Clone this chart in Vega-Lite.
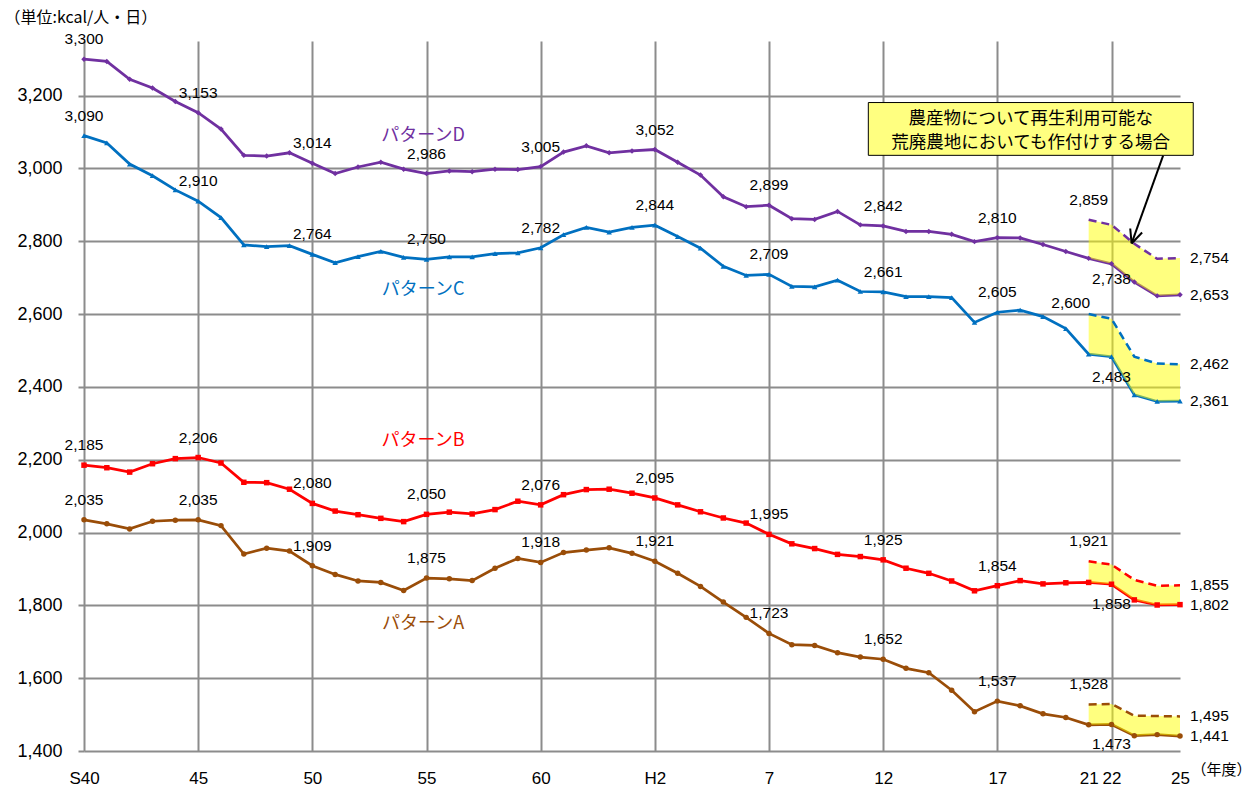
{
  "$schema": "https://vega.github.io/schema/vega-lite/v6.json",
  "width": 1096,
  "height": 710,
  "autosize": {"type": "none"},
  "padding": {"left": 84, "top": 41, "right": 73, "bottom": 38},
  "background": "white",
  "config": {"view": {"stroke": null}, "font": "Liberation Sans"},
  "datasets": {
    "series": [
      {"p":"D","year":1965,"v":3300},{"p":"D","year":1966,"v":3294},{"p":"D","year":1967,"v":3245},{"p":"D","year":1968,"v":3221},{"p":"D","year":1969,"v":3184},
      {"p":"D","year":1970,"v":3153},{"p":"D","year":1971,"v":3108},{"p":"D","year":1972,"v":3036},{"p":"D","year":1973,"v":3034},{"p":"D","year":1974,"v":3043},
      {"p":"D","year":1975,"v":3014},{"p":"D","year":1976,"v":2986},{"p":"D","year":1977,"v":3004},{"p":"D","year":1978,"v":3017},{"p":"D","year":1979,"v":2998},
      {"p":"D","year":1980,"v":2986},{"p":"D","year":1981,"v":2993},{"p":"D","year":1982,"v":2991},{"p":"D","year":1983,"v":2998},{"p":"D","year":1984,"v":2997},
      {"p":"D","year":1985,"v":3005},{"p":"D","year":1986,"v":3045},{"p":"D","year":1987,"v":3062},{"p":"D","year":1988,"v":3043},{"p":"D","year":1989,"v":3048},
      {"p":"D","year":1990,"v":3052},{"p":"D","year":1991,"v":3017},{"p":"D","year":1992,"v":2982},{"p":"D","year":1993,"v":2922},{"p":"D","year":1994,"v":2895},
      {"p":"D","year":1995,"v":2899},{"p":"D","year":1996,"v":2862},{"p":"D","year":1997,"v":2860},{"p":"D","year":1998,"v":2882},{"p":"D","year":1999,"v":2845},
      {"p":"D","year":2000,"v":2842},{"p":"D","year":2001,"v":2827},{"p":"D","year":2002,"v":2827},{"p":"D","year":2003,"v":2819},{"p":"D","year":2004,"v":2799},
      {"p":"D","year":2005,"v":2810},{"p":"D","year":2006,"v":2809},{"p":"D","year":2007,"v":2791},{"p":"D","year":2008,"v":2772},
      {"p":"D","year":2009,"v":2753,"u":2859},{"p":"D","year":2010,"v":2738,"u":2845},{"p":"D","year":2011,"v":2688,"u":2793},{"p":"D","year":2012,"v":2650,"u":2752},{"p":"D","year":2013,"v":2653,"u":2754},

      {"p":"C","year":1965,"v":3090},{"p":"C","year":1966,"v":3070},{"p":"C","year":1967,"v":3012},{"p":"C","year":1968,"v":2980},{"p":"C","year":1969,"v":2941},
      {"p":"C","year":1970,"v":2910},{"p":"C","year":1971,"v":2865},{"p":"C","year":1972,"v":2790},{"p":"C","year":1973,"v":2785},{"p":"C","year":1974,"v":2788},
      {"p":"C","year":1975,"v":2764},{"p":"C","year":1976,"v":2741},{"p":"C","year":1977,"v":2758},{"p":"C","year":1978,"v":2772},{"p":"C","year":1979,"v":2756},
      {"p":"C","year":1980,"v":2750},{"p":"C","year":1981,"v":2757},{"p":"C","year":1982,"v":2757},{"p":"C","year":1983,"v":2766},{"p":"C","year":1984,"v":2768},
      {"p":"C","year":1985,"v":2782},{"p":"C","year":1986,"v":2818},{"p":"C","year":1987,"v":2838},{"p":"C","year":1988,"v":2825},{"p":"C","year":1989,"v":2838},
      {"p":"C","year":1990,"v":2844},{"p":"C","year":1991,"v":2813},{"p":"C","year":1992,"v":2781},{"p":"C","year":1993,"v":2731},{"p":"C","year":1994,"v":2706},
      {"p":"C","year":1995,"v":2709},{"p":"C","year":1996,"v":2676},{"p":"C","year":1997,"v":2675},{"p":"C","year":1998,"v":2693},{"p":"C","year":1999,"v":2662},
      {"p":"C","year":2000,"v":2661},{"p":"C","year":2001,"v":2648},{"p":"C","year":2002,"v":2648},{"p":"C","year":2003,"v":2645},{"p":"C","year":2004,"v":2577},
      {"p":"C","year":2005,"v":2605},{"p":"C","year":2006,"v":2611},{"p":"C","year":2007,"v":2593},{"p":"C","year":2008,"v":2560},
      {"p":"C","year":2009,"v":2490,"u":2600},{"p":"C","year":2010,"v":2483,"u":2587},{"p":"C","year":2011,"v":2378,"u":2483},{"p":"C","year":2012,"v":2360,"u":2464},{"p":"C","year":2013,"v":2361,"u":2462},

      {"p":"B","year":1965,"v":2185},{"p":"B","year":1966,"v":2178},{"p":"B","year":1967,"v":2166},{"p":"B","year":1968,"v":2189},{"p":"B","year":1969,"v":2203},
      {"p":"B","year":1970,"v":2206},{"p":"B","year":1971,"v":2191},{"p":"B","year":1972,"v":2138},{"p":"B","year":1973,"v":2137},{"p":"B","year":1974,"v":2119},
      {"p":"B","year":1975,"v":2080},{"p":"B","year":1976,"v":2059},{"p":"B","year":1977,"v":2049},{"p":"B","year":1978,"v":2039},{"p":"B","year":1979,"v":2030},
      {"p":"B","year":1980,"v":2050},{"p":"B","year":1981,"v":2056},{"p":"B","year":1982,"v":2051},{"p":"B","year":1983,"v":2063},{"p":"B","year":1984,"v":2086},
      {"p":"B","year":1985,"v":2076},{"p":"B","year":1986,"v":2104},{"p":"B","year":1987,"v":2118},{"p":"B","year":1988,"v":2119},{"p":"B","year":1989,"v":2108},
      {"p":"B","year":1990,"v":2095},{"p":"B","year":1991,"v":2076},{"p":"B","year":1992,"v":2057},{"p":"B","year":1993,"v":2040},{"p":"B","year":1994,"v":2026},
      {"p":"B","year":1995,"v":1995},{"p":"B","year":1996,"v":1969},{"p":"B","year":1997,"v":1956},{"p":"B","year":1998,"v":1940},{"p":"B","year":1999,"v":1934},
      {"p":"B","year":2000,"v":1925},{"p":"B","year":2001,"v":1902},{"p":"B","year":2002,"v":1888},{"p":"B","year":2003,"v":1867},{"p":"B","year":2004,"v":1840},
      {"p":"B","year":2005,"v":1854},{"p":"B","year":2006,"v":1868},{"p":"B","year":2007,"v":1859},{"p":"B","year":2008,"v":1862},
      {"p":"B","year":2009,"v":1863,"u":1921},{"p":"B","year":2010,"v":1858,"u":1912},{"p":"B","year":2011,"v":1815,"u":1870},{"p":"B","year":2012,"v":1801,"u":1854},{"p":"B","year":2013,"v":1802,"u":1855},

      {"p":"A","year":1965,"v":2035},{"p":"A","year":1966,"v":2024},{"p":"A","year":1967,"v":2010},{"p":"A","year":1968,"v":2031},{"p":"A","year":1969,"v":2034},
      {"p":"A","year":1970,"v":2035},{"p":"A","year":1971,"v":2019},{"p":"A","year":1972,"v":1941},{"p":"A","year":1973,"v":1957},{"p":"A","year":1974,"v":1949},
      {"p":"A","year":1975,"v":1909},{"p":"A","year":1976,"v":1885},{"p":"A","year":1977,"v":1867},{"p":"A","year":1978,"v":1863},{"p":"A","year":1979,"v":1841},
      {"p":"A","year":1980,"v":1875},{"p":"A","year":1981,"v":1873},{"p":"A","year":1982,"v":1868},{"p":"A","year":1983,"v":1902},{"p":"A","year":1984,"v":1929},
      {"p":"A","year":1985,"v":1918},{"p":"A","year":1986,"v":1945},{"p":"A","year":1987,"v":1952},{"p":"A","year":1988,"v":1958},{"p":"A","year":1989,"v":1943},
      {"p":"A","year":1990,"v":1921},{"p":"A","year":1991,"v":1888},{"p":"A","year":1992,"v":1852},{"p":"A","year":1993,"v":1809},{"p":"A","year":1994,"v":1767},
      {"p":"A","year":1995,"v":1723},{"p":"A","year":1996,"v":1692},{"p":"A","year":1997,"v":1690},{"p":"A","year":1998,"v":1670},{"p":"A","year":1999,"v":1658},
      {"p":"A","year":2000,"v":1652},{"p":"A","year":2001,"v":1627},{"p":"A","year":2002,"v":1615},{"p":"A","year":2003,"v":1567},{"p":"A","year":2004,"v":1508},
      {"p":"A","year":2005,"v":1537},{"p":"A","year":2006,"v":1524},{"p":"A","year":2007,"v":1502},{"p":"A","year":2008,"v":1492},
      {"p":"A","year":2009,"v":1472,"u":1528},{"p":"A","year":2010,"v":1473,"u":1529},{"p":"A","year":2011,"v":1442,"u":1497},{"p":"A","year":2012,"v":1445,"u":1496},{"p":"A","year":2013,"v":1441,"u":1495}
    ],
    "labels": [
      {"year":1965,"v":3300,"pos":"above"},{"year":1970,"v":3153,"pos":"above"},{"year":1975,"v":3014,"pos":"above"},{"year":1980,"v":2986,"pos":"above"},{"year":1985,"v":3005,"pos":"above"},
      {"year":1990,"v":3052,"pos":"above"},{"year":1995,"v":2899,"pos":"above"},{"year":2000,"v":2842,"pos":"above"},{"year":2005,"v":2810,"pos":"above"},{"year":2009,"v":2859,"pos":"above"},
      {"year":2010,"v":2738,"pos":"below2"},{"year":2013,"v":2754,"pos":"right"},{"year":2013,"v":2653,"pos":"right"},
      {"year":1965,"v":3090,"pos":"above"},{"year":1970,"v":2910,"pos":"above"},{"year":1975,"v":2764,"pos":"above"},{"year":1980,"v":2750,"pos":"above"},{"year":1985,"v":2782,"pos":"above"},
      {"year":1990,"v":2844,"pos":"above"},{"year":1995,"v":2709,"pos":"above"},{"year":2000,"v":2661,"pos":"above"},{"year":2005,"v":2605,"pos":"above"},{"year":2009,"v":2600,"pos":"upleft"},
      {"year":2010,"v":2483,"pos":"below"},{"year":2013,"v":2462,"pos":"right"},{"year":2013,"v":2361,"pos":"right"},
      {"year":1965,"v":2185,"pos":"above"},{"year":1970,"v":2206,"pos":"above"},{"year":1975,"v":2080,"pos":"above"},{"year":1980,"v":2050,"pos":"above"},{"year":1985,"v":2076,"pos":"above"},
      {"year":1990,"v":2095,"pos":"above"},{"year":1995,"v":1995,"pos":"above"},{"year":2000,"v":1925,"pos":"above"},{"year":2005,"v":1854,"pos":"above"},{"year":2009,"v":1921,"pos":"above"},
      {"year":2010,"v":1858,"pos":"below"},{"year":2013,"v":1855,"pos":"right"},{"year":2013,"v":1802,"pos":"right"},
      {"year":1965,"v":2035,"pos":"above"},{"year":1970,"v":2035,"pos":"above"},{"year":1975,"v":1909,"pos":"above"},{"year":1980,"v":1875,"pos":"above"},{"year":1985,"v":1918,"pos":"above"},
      {"year":1990,"v":1921,"pos":"above"},{"year":1995,"v":1723,"pos":"above"},{"year":2000,"v":1652,"pos":"above"},{"year":2005,"v":1537,"pos":"above"},{"year":2009,"v":1528,"pos":"above"},
      {"year":2010,"v":1473,"pos":"below"},{"year":2013,"v":1495,"pos":"right"},{"year":2013,"v":1441,"pos":"right"}
    ],
    "names": [
      {"p":"D","year":1979.85,"v":3090,"t":"パターンD"},
      {"p":"C","year":1979.85,"v":2666,"t":"パターンC"},
      {"p":"B","year":1979.85,"v":2251,"t":"パターンB"},
      {"p":"A","year":1979.85,"v":1749,"t":"パターンA"}
    ],
    "box": [{"x1":1999.35,"x2":2013.58,"y1":3036,"y2":3181}],
    "boxtext": [
      {"year":2006.46,"v":3136,"t":"農産物について再生利用可能な"},
      {"year":2006.46,"v":3070,"t":"荒廃農地においても作付けする場合"}
    ],
    "arrow": [
      {"x1":2012.26,"y1":3035,"x2":2010.88,"y2":2794},
      {"x1":2010.88,"y1":2794,"x2":2011.34,"y2":2824},
      {"x1":2010.88,"y1":2794,"x2":2010.82,"y2":2835}
    ]
  },
  "layer": [
    {
      "data": {"name": "series"},
      "mark": {"type": "line", "strokeWidth": 2.75},
      "encoding": {
        "x": {
          "field": "year", "type": "quantitative",
          "scale": {"domain": [1965, 2013], "nice": false, "zero": false},
          "axis": {
            "values": [1965,1970,1975,1980,1985,1990,1995,2000,2005,2009,2010,2013],
            "labelExpr": "datum.value == 1965 ? 'S40' : datum.value == 1990 ? 'H2' : datum.value < 1989 ? '' + (datum.value - 1925) : '' + (datum.value - 1988)",
            "grid": true,
            "gridColor": "#8c8c8c",
            "gridWidth": 2,
            "gridOpacity": {"condition": {"test": "datum.value == 2009 || datum.value == 2013", "value": 0}, "value": 1},
            "ticks": false,
            "tickSize": 0,
            "domain": false,
            "labelFont": "Liberation Sans",
            "labelFontSize": 17,
            "labelColor": "#000000",
            "labelPadding": 19,
            "labelOverlap": false,
            "labelFlush": false,
            "labelBound": false,
            "title": "（年度）",
            "titleFont": "Noto Sans CJK JP",
            "titleFontSize": 15,
            "titleFontWeight": "normal",
            "titleColor": "#000000",
            "titleAngle": 0,
            "titleX": 1137,
            "titleY": 18,
            "titleAlign": "center",
            "titleBaseline": "middle"
          }
        },
        "y": {
          "field": "v", "type": "quantitative",
          "scale": {"domain": [1400, 3350], "nice": false, "zero": false},
          "axis": {
            "values": [1400,1600,1800,2000,2200,2400,2600,2800,3000,3200],
            "labelExpr": "format(datum.value, ',')",
            "grid": true,
            "gridColor": "#8c8c8c",
            "gridWidth": 2,
            "ticks": true,
            "tickSize": 6,
            "tickColor": "#8c8c8c",
            "tickWidth": 2,
            "domain": false,
            "labelFont": "Liberation Sans",
            "labelFontSize": 18,
            "labelColor": "#000000",
            "labelPadding": 16,
            "title": "（単位:kcal/人・日）",
            "titleFont": "Noto Sans CJK JP",
            "titleFontSize": 16,
            "titleFontWeight": "normal",
            "titleColor": "#000000",
            "titleAngle": 0,
            "titleX": -80,
            "titleY": -24,
            "titleAlign": "left",
            "titleBaseline": "middle"
          }
        },
        "color": {
          "field": "p", "type": "nominal",
          "scale": {"domain": ["A","B","C","D"], "range": ["#9A4D08","#FF0000","#0070C0","#7030A0"]},
          "legend": null
        }
      }
    },
    {
      "data": {"name": "series"},
      "transform": [{"filter": "isValid(datum.u)"}],
      "mark": {"type": "area", "color": "#FFFF00", "opacity": 0.5},
      "encoding": {
        "x": {"field": "year", "type": "quantitative"},
        "y": {"field": "v", "type": "quantitative"},
        "y2": {"field": "u"},
        "detail": {"field": "p", "type": "nominal"}
      }
    },
    {
      "data": {"name": "series"},
      "mark": {"type": "point", "filled": true, "size": 30, "opacity": 1},
      "encoding": {
        "x": {"field": "year", "type": "quantitative"},
        "y": {"field": "v", "type": "quantitative"},
        "color": {"field": "p", "type": "nominal", "legend": null},
        "shape": {
          "field": "p", "type": "nominal",
          "scale": {"domain": ["A","B","C","D"], "range": ["circle","square","triangle-up","diamond"]},
          "legend": null
        }
      }
    },
    {
      "data": {"name": "series"},
      "transform": [{"filter": "isValid(datum.u)"}],
      "mark": {"type": "line", "strokeWidth": 2.5, "strokeDash": [8, 5]},
      "encoding": {
        "x": {"field": "year", "type": "quantitative"},
        "y": {"field": "u", "type": "quantitative"},
        "color": {"field": "p", "type": "nominal", "legend": null}
      }
    },
    {
      "data": {"name": "labels"},
      "transform": [{"filter": "datum.pos == 'above'"}],
      "mark": {"type": "text", "dy": -20, "align": "center", "baseline": "middle", "fontSize": 15.5, "font": "Liberation Sans", "color": "#000000"},
      "encoding": {
        "x": {"field": "year", "type": "quantitative"},
        "y": {"field": "v", "type": "quantitative"},
        "text": {"field": "v", "type": "quantitative", "format": ","}
      }
    },
    {
      "data": {"name": "labels"},
      "transform": [{"filter": "datum.pos == 'below'"}],
      "mark": {"type": "text", "dy": 20, "align": "center", "baseline": "middle", "fontSize": 15.5, "font": "Liberation Sans", "color": "#000000"},
      "encoding": {
        "x": {"field": "year", "type": "quantitative"},
        "y": {"field": "v", "type": "quantitative"},
        "text": {"field": "v", "type": "quantitative", "format": ","}
      }
    },
    {
      "data": {"name": "labels"},
      "transform": [{"filter": "datum.pos == 'below2'"}],
      "mark": {"type": "text", "dy": 15, "align": "center", "baseline": "middle", "fontSize": 15.5, "font": "Liberation Sans", "color": "#000000"},
      "encoding": {
        "x": {"field": "year", "type": "quantitative"},
        "y": {"field": "v", "type": "quantitative"},
        "text": {"field": "v", "type": "quantitative", "format": ","}
      }
    },
    {
      "data": {"name": "labels"},
      "transform": [{"filter": "datum.pos == 'upleft'"}],
      "mark": {"type": "text", "dx": -18, "dy": -11, "align": "center", "baseline": "middle", "fontSize": 15.5, "font": "Liberation Sans", "color": "#000000"},
      "encoding": {
        "x": {"field": "year", "type": "quantitative"},
        "y": {"field": "v", "type": "quantitative"},
        "text": {"field": "v", "type": "quantitative", "format": ","}
      }
    },
    {
      "data": {"name": "labels"},
      "transform": [{"filter": "datum.pos == 'right'"}],
      "mark": {"type": "text", "dx": 10, "align": "left", "baseline": "middle", "fontSize": 15.5, "font": "Liberation Sans", "color": "#000000"},
      "encoding": {
        "x": {"field": "year", "type": "quantitative"},
        "y": {"field": "v", "type": "quantitative"},
        "text": {"field": "v", "type": "quantitative", "format": ","}
      }
    },
    {
      "data": {"name": "names"},
      "mark": {"type": "text", "align": "center", "baseline": "middle", "fontSize": 18, "font": "Noto Sans CJK JP"},
      "encoding": {
        "x": {"field": "year", "type": "quantitative"},
        "y": {"field": "v", "type": "quantitative"},
        "text": {"field": "t", "type": "nominal"},
        "color": {"field": "p", "type": "nominal", "legend": null}
      }
    },
    {
      "data": {"name": "box"},
      "mark": {"type": "rect", "fill": "#FFFF80", "stroke": "#000000", "strokeWidth": 1},
      "encoding": {
        "x": {"field": "x1", "type": "quantitative"},
        "x2": {"field": "x2"},
        "y": {"field": "y1", "type": "quantitative"},
        "y2": {"field": "y2"}
      }
    },
    {
      "data": {"name": "boxtext"},
      "mark": {"type": "text", "align": "center", "baseline": "middle", "fontSize": 17.5, "font": "Noto Sans CJK JP", "color": "#000000"},
      "encoding": {
        "x": {"field": "year", "type": "quantitative"},
        "y": {"field": "v", "type": "quantitative"},
        "text": {"field": "t", "type": "nominal"}
      }
    },
    {
      "data": {"name": "arrow"},
      "mark": {"type": "rule", "color": "#000000", "strokeWidth": 2},
      "encoding": {
        "x": {"field": "x1", "type": "quantitative"},
        "x2": {"field": "x2"},
        "y": {"field": "y1", "type": "quantitative"},
        "y2": {"field": "y2"}
      }
    }
  ]
}
